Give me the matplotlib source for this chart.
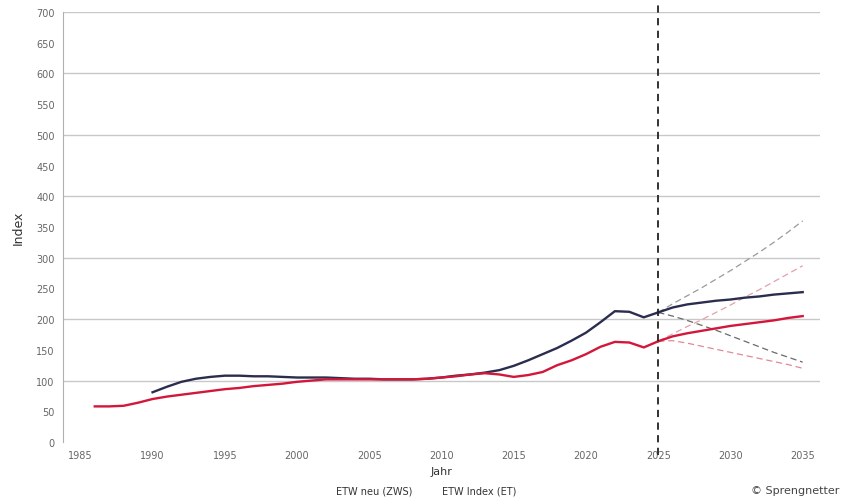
import matplotlib
matplotlib.use("Agg")
import matplotlib.pyplot as plt

# Historical index values
years_neu = list(range(1990, 2026))
neu = [81, 90, 98, 103, 106, 108, 108, 107, 107, 106,
       105, 105, 105, 104, 103, 103, 102, 102, 102, 103,
       105, 108, 110, 113, 117, 124, 133, 143, 153, 165,
       178, 195, 213, 212, 203, 211]

years_idx = list(range(1986, 2026))
idx = [58, 58, 59, 64, 70, 74, 77, 80, 83, 86,
       88, 91, 93, 95, 98, 100, 102, 102, 102, 102,
       102, 102, 102, 103, 105, 107, 110, 112, 110, 106,
       109, 114, 125, 133, 143, 155, 163, 162, 154, 164]

# Forecast 2025-2035
years_fc = list(range(2025, 2036))
neu_fc = [211, 219, 224, 227, 230, 232, 235, 237, 240, 242, 244]
neu_hi = [211, 225, 238, 251, 265, 279, 294, 309, 325, 342, 360]
neu_lo = [211, 205, 198, 190, 182, 173, 164, 155, 146, 138, 130]
idx_fc = [164, 172, 177, 181, 185, 189, 192, 195, 198, 202, 205]
idx_hi = [164, 176, 188, 199, 211, 223, 236, 248, 261, 274, 287]
idx_lo = [164, 165, 161, 156, 151, 146, 141, 136, 131, 126, 120]

x_ticks = list(range(1985, 2036, 5))
y_ticks = list(range(0, 701, 50))
labels = ["ETW neu (ZWS)", "ETW Index (ET)"]
forecast_start = 2025

NAVY = "#2a2d4e"
RED = "#d3173a"

fig = plt.figure(figsize=(8.44, 5.02), dpi=100)
ax = fig.add_axes([0.0746, 0.1175, 0.897, 0.8565])

for v in range(100, 701, 100):
    ax.axhline(v, color="#c8c8c8", lw=1.0, zorder=0)

ax.plot(years_fc, neu_hi, color="#9a9a9a", lw=0.9, ls=(0, (5, 3)))
ax.plot(years_fc, neu_lo, color="#6a6a6a", lw=0.9, ls=(0, (5, 3)))
ax.plot(years_fc, idx_hi, color="#e3a0a8", lw=0.9, ls=(0, (5, 3)))
ax.plot(years_fc, idx_lo, color="#e08a96", lw=0.9, ls=(0, (5, 3)))

ax.plot(years_neu, neu, color=NAVY, lw=1.7, label=labels[0])
ax.plot(years_fc, neu_fc, color=NAVY, lw=1.7)
ax.plot(years_idx, idx, color=RED, lw=1.7, label=labels[1])
ax.plot(years_fc, idx_fc, color=RED, lw=1.7)

# forecast boundary, running a little beyond the plot area
ax.axvline(forecast_start, ymin=-0.03, ymax=1.03, color="#222222", lw=1.3,
           ls=(0, (4, 3)), clip_on=False)

ax.set_xlim(1983.8, 2036.2)
ax.set_ylim(0, 700)
ax.set_xticks(x_ticks)
ax.set_yticks(y_ticks)
ax.tick_params(axis="both", length=0, labelsize=7, colors="#666666", pad=6)
for s in ["top", "right", "bottom"]:
    ax.spines[s].set_visible(False)
ax.spines["left"].set_color("#b0b0b0")

ax.set_ylabel("Index", fontsize=9, color="#333333", labelpad=8)
ax.set_xlabel("Jahr", fontsize=8, color="#333333", labelpad=4)

leg = fig.legend(loc="center", bbox_to_anchor=(0.505, 0.02), ncol=2, frameon=False,
                 fontsize=7, handlelength=0, handletextpad=0, columnspacing=3.0)
for h in leg.legend_handles:
    h.set_visible(False)
for t in leg.get_texts():
    t.set_color("#333333")

fig.text(0.995, 0.022, "© Sprengnetter", ha="right", va="center", fontsize=8, color="#444444")

fig.savefig("out.png", dpi=100)
